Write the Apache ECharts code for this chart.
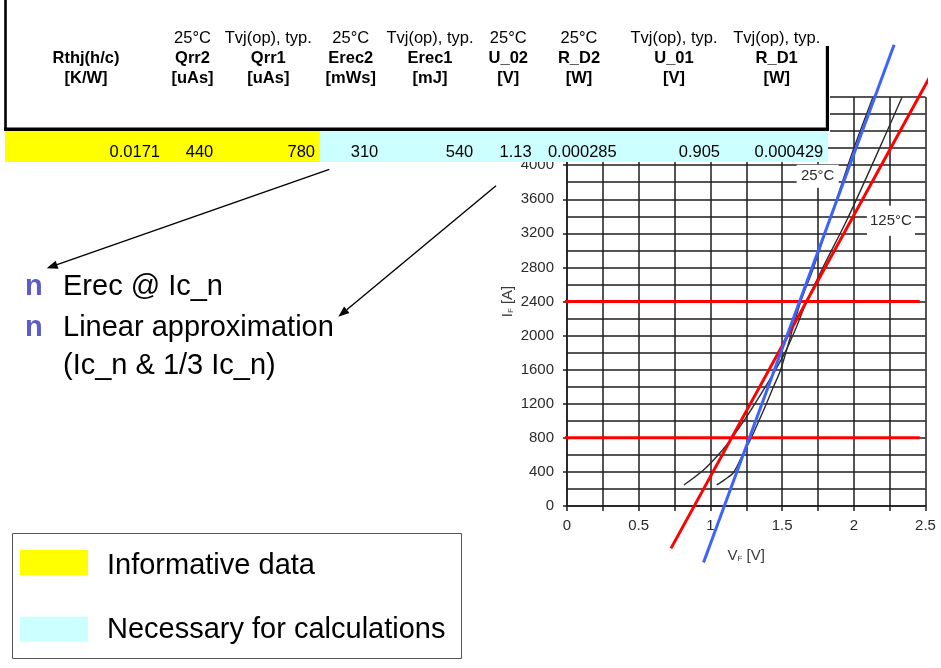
<!DOCTYPE html>
<html><head><meta charset="utf-8">
<script src="https://cdn.jsdelivr.net/npm/echarts@6/dist/echarts.min.js"></script>
<style>html,body{margin:0;padding:0;background:#fff}#c{width:941px;height:668px}</style>
</head><body><div id="c"></div>
<script>
// ---------- data ----------
const xTicks = [0, 0.5, 1, 1.5, 2, 2.5];
const yTicks = [0, 400, 800, 1200, 1600, 2000, 2400, 2800, 3200, 3600, 4000, 4400, 4800];
// datasheet curves I_F(V_F)  [V, A]
const curve25C = [[1.044,247],[1.10,310],[1.16,390],[1.23,620],[1.285,800],[1.37,1120],[1.44,1400],[1.49,1600],[1.56,2000],[1.63,2400],[1.72,2800],[1.81,3250],[1.90,3700],[1.99,4150],[2.134,4800]];
const curve125C = [[0.815,247],[0.95,420],[1.065,620],[1.15,800],[1.25,1040],[1.34,1280],[1.42,1500],[1.52,1800],[1.60,2100],[1.671,2400],[1.80,2850],[1.95,3350],[2.14,4050],[2.337,4800]];
// linear approximations
const approx25C = [[0.952,-663],[2.281,5414]];
const approx125C = [[0.725,-497],[2.72,5620]];
// current levels Ic_n and 1/3 Ic_n
const levelIcn = [[-0.09,2400],[2.46,2400]];
const levelIcn3 = [[-0.09,800],[2.46,800]];
const curveLabels = [['25°C',1.748,3870],['125°C',2.259,3347]];
// table
const headerLine1 = ['', '25°C', 'Tvj(op), typ.', '25°C', 'Tvj(op), typ.', '25°C', '25°C', 'Tvj(op), typ.', 'Tvj(op), typ.'];
const headerNames = ['Rthj(h/c)','Qrr2','Qrr1','Erec2','Erec1','U_02','R_D2','U_01','R_D1'];
const headerUnits = ['[K/W]','[uAs]','[uAs]','[mWs]','[mJ]','[V]','[W]','[V]','[W]'];
const rowValues = ['0.0171','440','780','310','540','1.13','0.000285','0.905','0.000429'];
const bullets = ['Erec @ Ic_n', 'Linear approximation', '(Ic_n & 1/3 Ic_n)'];
const legendItems = ['Informative data', 'Necessary for calculations'];

// ---------- layout ----------
const FF = '"Liberation Sans", Arial, Helvetica, sans-serif';
const colCenters = [86, 192.5, 268.3, 350.8, 430, 508.3, 579, 674, 776.7];
const valueRight = [160, 213.3, 315, 378.3, 473.3, 531.7, 616.7, 720, 823.3];
const labelBoxes = [[42,23],[48,30]];

const G = [];
const Z = 100;
G.push({type:'rect', z:Z, shape:{x:3,y:0,width:827,height:133}, style:{fill:'#fff'}});
G.push({type:'rect', z:Z, shape:{x:5,y:130.5,width:315,height:31.5}, style:{fill:'#ffff00'}});
G.push({type:'rect', z:Z, shape:{x:320,y:130.5,width:508,height:31.5}, style:{fill:'#ccffff'}});
G.push({type:'line', z:Z+1, shape:{x1:5.5,y1:0,x2:5.5,y2:131}, style:{stroke:'#000',lineWidth:2.6}});
G.push({type:'line', z:Z+1, shape:{x1:4,y1:129.3,x2:829,y2:129.3}, style:{stroke:'#000',lineWidth:3.4}});
G.push({type:'line', z:Z+1, shape:{x1:827.4,y1:46,x2:827.4,y2:131}, style:{stroke:'#000',lineWidth:3.2}});
function txt(t, x, y, opt){
  return Object.assign({type:'text', z:Z+2, style:{text:t, x:x, y:y, fill:opt.fill||'#000',
    font:(opt.weight||'normal')+' '+opt.size+'px '+FF,
    textAlign:opt.align||'center', align:opt.align||'center',
    textVerticalAlign:'middle', verticalAlign:'middle'}});
}
headerNames.forEach((n,i)=>{
  if (headerLine1[i]) G.push(txt(headerLine1[i], colCenters[i], 38, {size:16.5}));
  G.push(txt(n, colCenters[i], 58, {size:16.5, weight:'bold'}));
  G.push(txt(headerUnits[i], colCenters[i], 78, {size:16.5, weight:'bold'}));
});
rowValues.forEach((v,i)=>{ G.push(txt(v, valueRight[i], 152, {size:16.5, align:'right'})); });

// bullets
const bulletY = [286.5, 328, 366];
bullets.forEach((b,i)=>{
  if (i < 2) G.push(txt('n', 25, bulletY[i], {size:29, weight:'bold', align:'left', fill:'#5b5bc9'}));
  G.push(txt(b, 63, bulletY[i], {size:29, align:'left'}));
});

// arrows
function arrow(x1,y1,x2,y2){
  const a = Math.atan2(y2-y1, x2-x1), L = 11, W = 4.2;
  const bx = x2 - L*Math.cos(a), by = y2 - L*Math.sin(a);
  const px = -Math.sin(a)*W, py = Math.cos(a)*W;
  G.push({type:'line', z:Z, shape:{x1:x1,y1:y1,x2:bx,y2:by}, style:{stroke:'#000',lineWidth:1.4}});
  G.push({type:'polygon', z:Z, shape:{points:[[x2,y2],[bx+px,by+py],[bx-px,by-py]]}, style:{fill:'#000'}});
}
arrow(329.3,169.3,46.7,268.3);
arrow(496,185.7,338.3,316.7);

// legend box
G.push({type:'rect', z:Z, shape:{x:12.5,y:533.5,width:449,height:125}, style:{fill:'#fff',stroke:'#555',lineWidth:1}});
G.push({type:'rect', z:Z, shape:{x:20,y:550,width:68,height:25}, style:{fill:'#ffff00'}});
G.push({type:'rect', z:Z, shape:{x:20,y:616.7,width:68,height:25}, style:{fill:'#ccffff'}});
G.push(txt(legendItems[0], 107, 565.5, {size:29, align:'left'}));
G.push(txt(legendItems[1], 107, 630, {size:29, align:'left'}));

const gridLine = {color:'#1e1e1e', width:1.5};
const axisTxt = {color:'#2a2a2a', fontSize:15, fontFamily:FF};
const nameRich = {
  a:{fontSize:15, color:'#3a3a3a', fontFamily:FF},
  b:{fontSize:8, color:'#3a3a3a', fontFamily:FF, verticalAlign:'bottom', padding:[5,0,0,0]}
};

const chart = echarts.init(document.getElementById('c'), null, {renderer:'canvas'});
chart.setOption({
  animation:false,
  backgroundColor:'#fff',
  grid:{left:567, top:97, width:358.5, height:409},
  xAxis:{type:'value', min:xTicks[0], max:xTicks[xTicks.length-1], interval:xTicks[1]-xTicks[0],
    axisLine:{show:true, onZero:false, lineStyle:gridLine},
    axisTick:{show:true, length:5, lineStyle:gridLine},
    minorTick:{show:true, splitNumber:2, length:5, lineStyle:gridLine},
    splitLine:{show:true, lineStyle:gridLine},
    minorSplitLine:{show:true, lineStyle:gridLine},
    axisLabel:Object.assign({margin:12, formatter:v=>String(v)}, axisTxt),
    name:'{a|V}{b|F}{a| [V]}', nameLocation:'middle', nameGap:42,
    nameTextStyle:{rich:nameRich}},
  yAxis:{type:'value', min:yTicks[0], max:yTicks[yTicks.length-1], interval:yTicks[1]-yTicks[0],
    axisLine:{show:true, onZero:false, lineStyle:gridLine},
    axisTick:{show:true, length:4, lineStyle:gridLine},
    splitLine:{show:true, lineStyle:gridLine},
    minorSplitLine:{show:true, lineStyle:gridLine},
    minorTick:{show:false, splitNumber:2},
    axisLabel:Object.assign({margin:13, formatter:v=>String(v)}, axisTxt),
    name:'{a|I}{b|F}{a| [A]}', nameLocation:'middle', nameGap:52,
    nameTextStyle:{rich:nameRich}},
  series:[
    {type:'line', data:curve25C, smooth:0.3, showSymbol:false, symbol:'none', silent:true,
      lineStyle:{color:'#2a2a2a', width:1.4}},
    {type:'line', data:curve125C, smooth:0.3, showSymbol:false, symbol:'none', silent:true,
      lineStyle:{color:'#2a2a2a', width:1.4}},
    {type:'line', data:levelIcn, clip:false, symbol:'none', silent:true, z:4, lineStyle:{color:'#ff0000', width:3}},
    {type:'line', data:levelIcn3, clip:false, symbol:'none', silent:true, z:4, lineStyle:{color:'#ff0000', width:3}},
    {type:'line', data:approx125C, clip:false, symbol:'none', silent:true, z:5, lineStyle:{color:'#ff0000', width:3}},
    {type:'line', data:approx25C, clip:false, symbol:'none', silent:true, z:5, lineStyle:{color:'#3d63ff', width:3}},
    {type:'scatter', silent:true, z:6, symbol:'rect',
      data:curveLabels.map(d=>({name:d[0], value:[d[1], d[2]]})),
      symbolSize:(v,p)=>labelBoxes[p.dataIndex],
      itemStyle:{color:'#fff', opacity:1},
      label:{show:true, position:'inside', formatter:p=>p.name, color:'#2a2a2a', fontSize:15, fontFamily:FF}}
  ],
  graphic:G
});
</script></body></html>
